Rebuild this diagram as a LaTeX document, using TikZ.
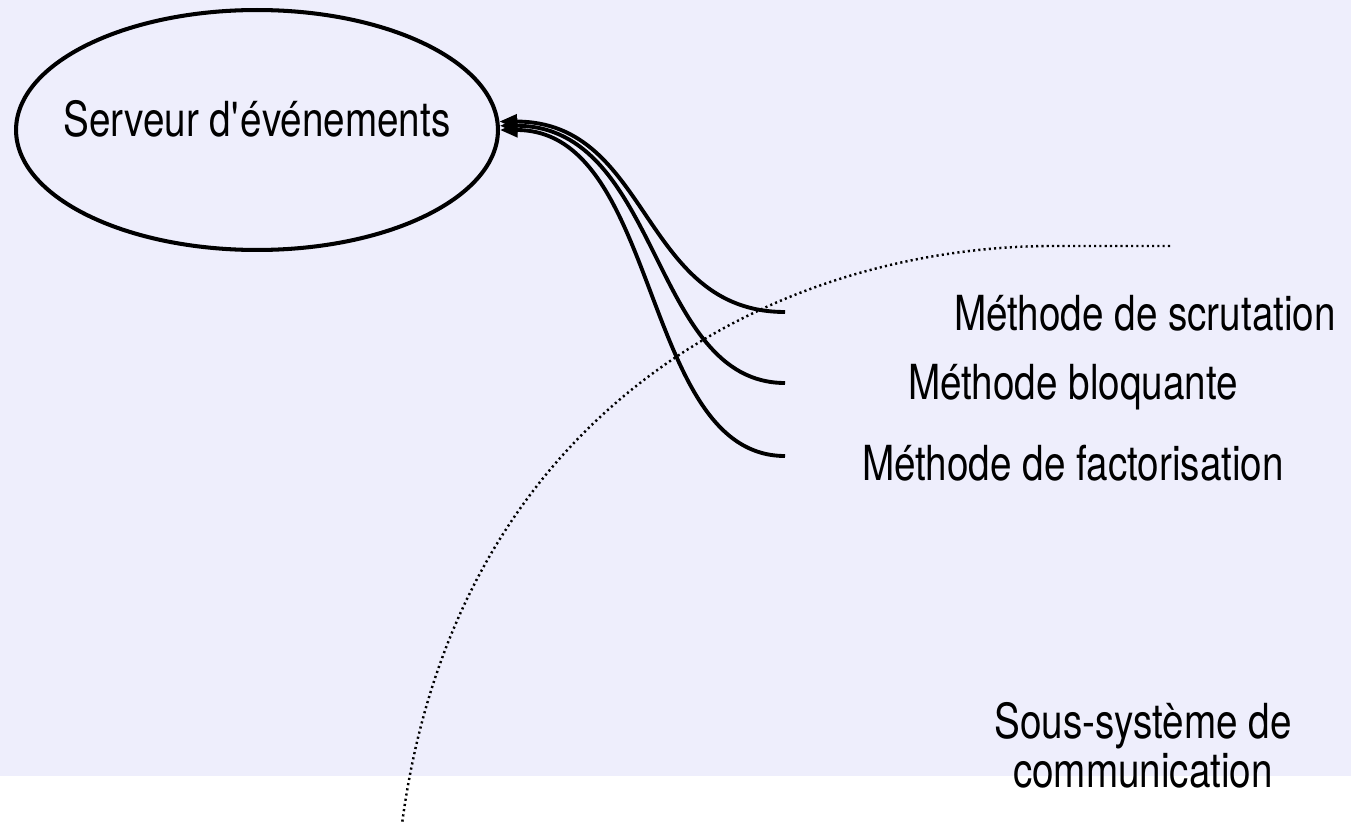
\documentclass[tikz,border=0pt]{standalone}
\usepackage{fontspec}
\setmainfont[FakeStretch=0.8]{TeX Gyre Heros}
\usetikzlibrary{shapes.geometric,arrows.meta}
\definecolor{bglav}{RGB}{238,238,252}
\tikzset{
srvshape/.style={ellipse,draw,line width=2.3pt,minimum width=9.64cm,minimum height=4.8cm,inner sep=0pt},
lbl/.style={anchor=base,inner sep=0pt,font=\fontsize{27.5}{27.8}\selectfont},
callarrow/.style={line width=2.2pt,-{Triangle[length=10pt,width=8pt]}},
dotline/.style={line width=1.4pt,dash pattern=on 1.2pt off 1.8pt}
}

\begin{document}
\begin{tikzpicture}[x=0.02cm,y=-0.02cm]
\useasboundingbox (0,0) rectangle (1351,824);
\fill[white] (0,0) rectangle (1351,824);
\fill[bglav] (0,0) rectangle (1351,776);

%%%%%
\node[srvshape] (srv) at (257,130) {};
\node[lbl] (srvtxt) at (257,137) {Serveur d\textquotesingle événements};

\node[lbl] (scrut) at (1145,330) {Méthode de scrutation};
\node[lbl] (bloq) at (1073,399) {Méthode bloquante};
\node[lbl] (fact) at (1073,480) {Méthode de factorisation};
\node[lbl,align=center] (comm) at (1143,787) {Sous-système de\\communication};

%%%%%
\coordinate (c1) at (785,312);
\coordinate (c2) at (785,383);
\coordinate (c3) at (785,456);
\draw[callarrow] (c1) .. controls +(-145,0) and +(152,0) .. (srv.2);
\draw[callarrow] (c2) .. controls +(-135,0) and +(162,0) .. (srv.1.5);
\draw[callarrow] (c3) .. controls +(-145,0) and +(162,0) .. (srv.-0.5);

%%%%%
\coordinate (d0) at (1170,246);
\coordinate (d1) at (1045,246);
\coordinate (d2) at (402,824);
\draw[dotline] (d0) -- (d1) .. controls +(-285,4) and +(53,-402) .. (d2);

\end{tikzpicture}
\end{document}
